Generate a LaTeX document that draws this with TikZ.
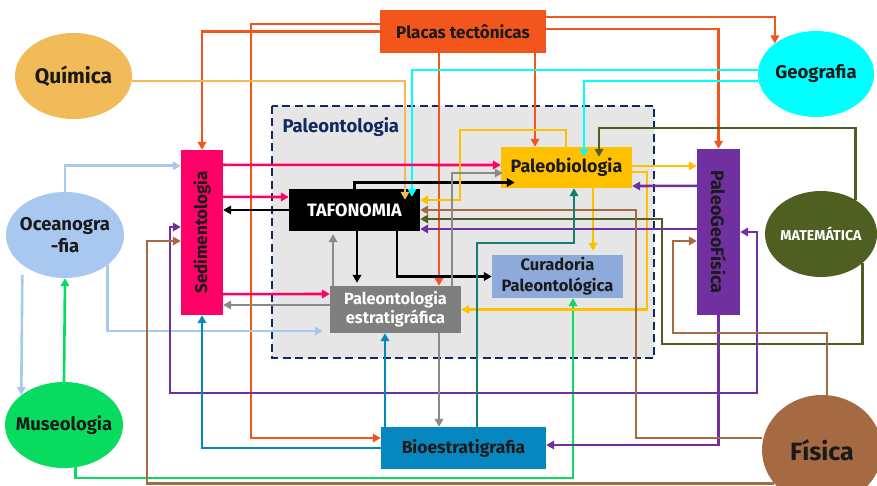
\documentclass[tikz,border=0pt]{standalone}
\usepackage{fontspec}
\setmainfont{Fira Sans}
\usepackage{graphicx}
\usetikzlibrary{shapes,arrows.meta}

\definecolor{ink}{RGB}{26,26,26}
\definecolor{navy}{RGB}{14,42,94}
\definecolor{paleofill}{RGB}{231,230,230}
\definecolor{placasc}{RGB}{242,86,28}
\definecolor{quimc}{RGB}{240,187,88}
\definecolor{geoc}{RGB}{0,255,255}
\definecolor{oceanc}{RGB}{169,200,240}
\definecolor{museoc}{RGB}{8,220,96}
\definecolor{matc}{RGB}{79,95,34}
\definecolor{fisc}{RGB}{166,106,67}
\definecolor{sedc}{RGB}{255,0,102}
\definecolor{pgfc}{RGB}{112,48,160}
\definecolor{paleobioc}{RGB}{255,192,0}
\definecolor{curadc}{RGB}{142,170,219}
\definecolor{pestc}{RGB}{127,127,127}
\definecolor{pestline}{RGB}{138,138,138}
\definecolor{bioc}{RGB}{7,135,192}
\definecolor{tealc}{RGB}{21,126,110}

\newcommand\nowidth[1]{\makebox[0pt]{#1}}
\newcommand\sz[2]{\bfseries\fontsize{#1}{#2}\selectfont}

\tikzset{
  box/.style={rectangle, inner sep=0pt, text=ink, align=center},
  field/.style={ellipse, inner sep=0pt, text=ink, align=center},
  link/.style={line width=2.6pt, ->},
  paleoarea/.style={fill=paleofill, draw=navy, line width=2.2pt, dash pattern=on 8pt off 4.5pt},
}

\begin{document}
\begin{tikzpicture}[x=1pt,y=-1pt,>={Triangle[length=8pt,width=8.5pt]}]
\clip (0,0) rectangle (877,486);
\fill[white] (0,0) rectangle (877,486);

\draw[paleoarea] (272,106) rectangle (654,358);
\node[anchor=west, text=navy, font=\sz{18.5}{20}] (paleo) at (279,127) {Paleontologia};

\node[field, fill=quimc, minimum width=117pt, minimum height=86pt, font=\sz{21}{24}] (quim) at (73.5,76) {\nowidth{\raisebox{-5pt}{Química}}};
\node[field, fill=geoc, minimum width=116pt, minimum height=86pt, font=\sz{18.5}{22}] (geo) at (816,74) {\nowidth{Geografia}};
\node[field, fill=oceanc, minimum width=118pt, minimum height=86pt, font=\sz{18.5}{22}] (ocean) at (65,235) {\nowidth{Oceanogra}\\\nowidth{-fia}};
\node[field, fill=museoc, minimum width=118pt, minimum height=86pt, font=\sz{18.4}{22}] (museo) at (64,425) {\nowidth{Museologia}};
\node[field, fill=matc, text=white, minimum width=112pt, minimum height=86pt, font=\sz{14.2}{17}] (mat) at (821,234) {\nowidth{MATEMÁTICA}};
\node[field, fill=fisc, minimum width=120pt, minimum height=110pt, font=\sz{25}{28}] (fis) at (822,450) {\nowidth{Física}};

\node[box, fill=placasc, minimum width=166pt, minimum height=43pt, font=\sz{17}{20}] (placas) at (463,31.5) {Placas tectônicas};
\node[box, fill=sedc, minimum width=42pt, minimum height=165pt, font=\sz{17}{20}] (sed) at (202,232.5) {\rotatebox{90}{Sedimentologia}};
\node[box, fill=pgfc, minimum width=43pt, minimum height=166pt, font=\sz{18}{20}] (pgf) at (718.5,232) {\rotatebox{-90}{PaleoGeoFísica}};
\node[box, fill=black, text=white, minimum width=131pt, minimum height=42pt, font=\sz{18}{20}] (taf) at (354.5,210) {TAFONOMIA};
\node[box, fill=paleobioc, minimum width=131pt, minimum height=41pt, font=\sz{17.9}{20}] (paleobio) at (566.5,167.5) {Paleobiologia};
\node[box, fill=curadc, minimum width=131pt, minimum height=43pt, font=\sz{16.5}{21}] (curad) at (557.5,276.5) {Curadoria\\Paleontológica};
\node[box, fill=pestc, text=white, minimum width=131pt, minimum height=47pt, font=\sz{16.3}{19}] (pest) at (395.5,309.5) {Paleontologia\\estratigráfica};
\node[box, fill=bioc, minimum width=165pt, minimum height=42pt, font=\sz{17.4}{20}] (bio) at (463.5,448) {Bioestratigrafia};

% Placas tectonicas
\draw[link, placasc] (placas.west) -| (sed.north);
\draw[link, placasc] ([yshift=7.5pt]placas.west) -| (251,300) |- ([yshift=10pt]bio.west);
\draw[link, placasc] ([xshift=-24pt]placas.south) -- ([xshift=43.5pt]pest.north);
\draw[link, placasc] ([xshift=72pt]placas.south) -- ([xshift=-31.5pt]paleobio.north);
\draw[link, placasc] ([yshift=14.5pt]placas.east) -| (geo.north west);
\draw[link, placasc] ([yshift=2.5pt]placas.east) -| (pgf.north);

% Quimica, Geografia
\draw[link, quimc] ([yshift=-5pt]quim.east) -| ([xshift=50.5pt,yshift=-11pt]taf.north);
\draw[link, geoc] ([yshift=4pt]geo.west) -| ([xshift=57.5pt,yshift=-8pt]taf.north);
\draw[link, geoc] ([yshift=-7pt]geo.west) -| ([xshift=17.5pt,yshift=-10pt]paleobio.north);

% Oceanografia, Museologia
\draw[link, oceanc] (ocean.north) |- ([yshift=-16pt]sed.north west);
\draw[link, oceanc] (ocean.-35) |- ([xshift=-7pt,yshift=-21.5pt]pest.west);
\draw[link, oceanc] ([yshift=-10pt]ocean.-145) -- (museo.145);
\draw[link, museoc] (museo.north) -- (ocean.south);
\draw[link, museoc] (museo.-75) |- (300,478) -| ([xshift=15.5pt]curad.south);

% Sedimentologia
\draw[link, sedc] ([yshift=-15pt]sed.north east) -- ([yshift=2.5pt]paleobio.west);
\draw[link, sedc] ([yshift=-47pt]sed.north east) -- ([yshift=13pt]taf.west);
\draw[link, sedc] ([yshift=21pt]sed.south east) -- ([yshift=15.5pt]pest.west);

% Tafonomia
\draw[link] (taf.west) -- ([yshift=22.5pt]sed.east);
\draw[link] (taf.north) |- ([xshift=14pt,yshift=-15pt]paleobio.west);
\draw[link] ([xshift=2.5pt]taf.south) -- ([xshift=-38.5pt,yshift=3pt]pest.north);
\draw[link] ([xshift=42.5pt]taf.south) |- (curad.west);

% Paleobiologia
\draw[link, paleobioc] ([xshift=-0.5pt]paleobio.north) |- (460,130) |- ([yshift=10pt]taf.east);
\draw[link, paleobioc] ([yshift=1.5pt]paleobio.east) -- ([yshift=66pt]pgf.west);
\draw[link, paleobioc] ([xshift=26.5pt]paleobio.south) -- ([xshift=35.5pt,yshift=4pt]curad.north);
\draw[link, paleobioc] ([yshift=-4.5pt]paleobio.east) -| (647,250) |- (pest.east);

% PaleoGeoFisica
\draw[link, pgfc] ([yshift=-37pt]pgf.north west) -- ([yshift=-18.5pt]paleobio.east);
\draw[link, pgfc] ([yshift=3pt]pgf.west) -- ([yshift=-19pt]taf.east);
\draw[link, pgfc] (pgf.south) |- ([yshift=3pt]bio.east);
\draw[link, pgfc, <->] ([yshift=5.5pt]sed.west) -| (170,393) -| (757,300) |- (pgf.east);

% Matematica, Fisica
\draw[link, matc] (mat.45) |- (599,128) -| ([xshift=32.5pt,yshift=-10pt]paleobio.north);
\draw[link, matc] (mat.-35) |- (662,344) |- ([yshift=-9pt]taf.east);
\draw[link, fisc] ([xshift=5pt]fis.north) |- (673,333) |- ([yshift=-9pt]pgf.west);
\draw[link, fisc] ([yshift=12pt]fis.west) -| (636,300) |- (taf.east);
\draw[link, fisc] (fis.-145) -| (147,300) |- ([yshift=-8.5pt]sed.west);

% Bioestratigrafia
\draw[link, bioc] (bio.west) -| (sed.south);
\draw[link, bioc] ([xshift=-78.5pt]bio.north) -- ([xshift=-10.5pt]pest.south);
\draw[link, tealc] ([xshift=13.5pt]bio.north) |- (520,243) -| ([xshift=7.5pt]paleobio.south);

% Paleontologia estratigrafica
\draw[link, pestline] ([xshift=-62.5pt]pest.north) -- ([xshift=-21.5pt,yshift=-3pt]taf.south);
\draw[link, pestline] ([yshift=4.5pt]pest.west) -- ([yshift=-72.5pt]sed.east);
\draw[link, pestline] ([xshift=56.5pt]pest.north) |- ([xshift=2pt,yshift=-5.5pt]paleobio.west);
\draw[link, pestline] ([xshift=43.5pt]pest.south) -- ([xshift=-24.5pt]bio.north);
\end{tikzpicture}
\end{document}
